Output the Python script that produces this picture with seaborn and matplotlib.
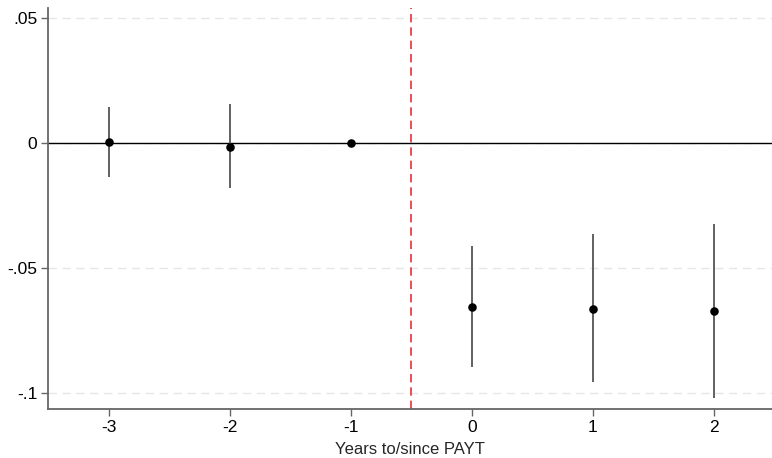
import matplotlib
matplotlib.use("Agg")
import matplotlib.pyplot as plt
import seaborn as sns
import pandas as pd

# Event-study estimates relative to PAYT introduction
years = [-3, -2, -1, 0, 1, 2]
coef = [0.0007, -0.0013, 0.0, -0.0654, -0.0662, -0.0671]
ci_low = [-0.0134, -0.0180, 0.0, -0.0894, -0.0957, -0.1020]
ci_high = [0.0146, 0.0156, 0.0, -0.0411, -0.0363, -0.0324]

y_ticks = [0.05, 0.0, -0.05, -0.1]
y_tick_labels = [".05", "0", "-.05", "-.1"]
x_label = "Years to/since PAYT"

df = pd.DataFrame({"year": years, "coef": coef, "lo": ci_low, "hi": ci_high})

sns.set_theme(style="white")
plt.rcParams["font.family"] = ["Liberation Sans", "DejaVu Sans"]

fig = plt.figure(figsize=(7.72, 4.58), dpi=100)
ax = fig.add_axes([0.0626, 0.107, 0.9374, 0.8755])

# gridlines
for yt in y_ticks:
    ax.axhline(yt, color="#e6e6e6", lw=1.0, ls=(0, (6, 4)), zorder=0)
ax.axhline(0, color="black", lw=1.0, zorder=1)
ax.axvline(-0.5, color="#e8303a", lw=1.2, ls=(0, (5, 3)), zorder=1)

# confidence intervals
ci = df[df["lo"] != df["hi"]]
ax.vlines(ci["year"], ci["lo"], ci["hi"], color="#606060", lw=1.4, zorder=2)

sns.scatterplot(data=df, x="year", y="coef", color="black", s=38,
                edgecolor="black", linewidth=0, ax=ax, zorder=3)

ax.set_xlim(-3.5, 2.48)
ax.set_ylim(-0.1063, 0.0541)
ax.set_xticks(years)
ax.set_xticklabels([str(y) for y in years])
ax.set_yticks(y_ticks)
ax.set_yticklabels(y_tick_labels)
ax.set_xlabel(x_label, fontsize=12, labelpad=5)
ax.set_ylabel("")

for side in ["top", "right"]:
    ax.spines[side].set_visible(False)
for side in ["left", "bottom"]:
    ax.spines[side].set_color("#666666")
    ax.spines[side].set_linewidth(1.3)

ax.tick_params(axis="both", which="major", length=5, width=1.0, color="#666666",
               labelsize=12.5, labelcolor="black", direction="out", bottom=True, left=True, pad=3)

fig.savefig("out.png", dpi=100)
